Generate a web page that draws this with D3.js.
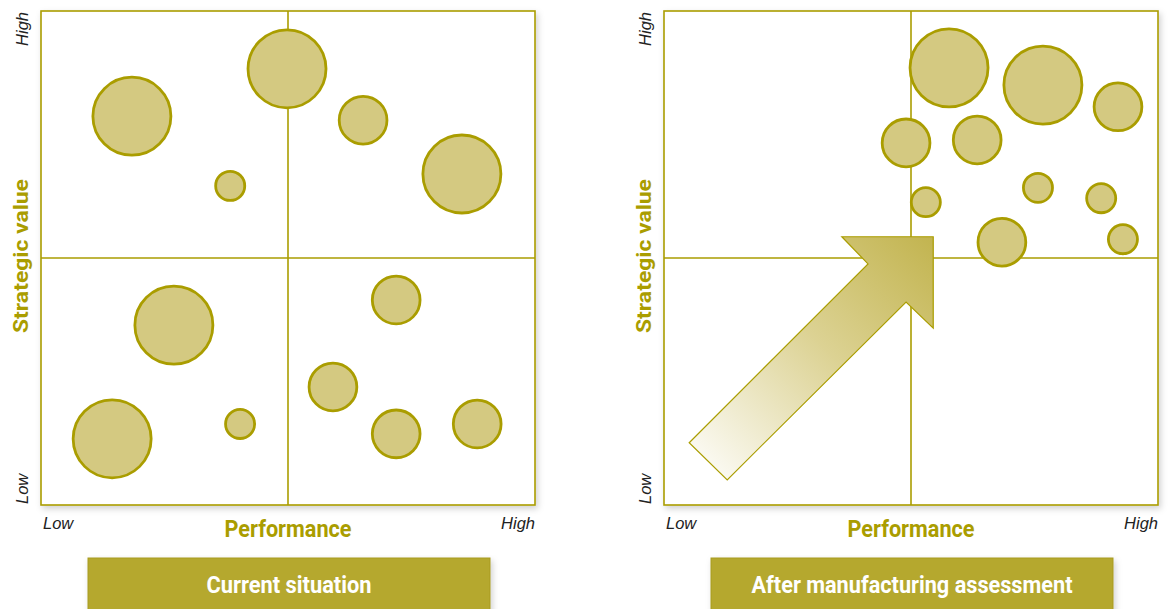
<!DOCTYPE html>
<html>
<head>
<meta charset="utf-8">
<script src="https://cdn.jsdelivr.net/npm/d3@7"></script>
<style>
  html, body { margin: 0; padding: 0; background: #fff; }
  svg { display: block; }
</style>
</head>
<body>
<div id="chart"></div>
<script>
// ---- data (performance 0..10, strategic value 0..10, size) ----
const panelTitles = ["Current situation", "After manufacturing assessment"];
const xTitle = "Performance";
const yTitle = "Strategic value";
const lowLabel = "Low";
const highLabel = "High";

const perfCurrent  = [1.84, 4.98, 6.52, 3.83, 8.52, 2.69, 7.19, 5.91, 1.44, 4.03, 7.19, 8.83];
const valueCurrent = [7.87, 8.83, 7.79, 6.46, 6.70, 3.64, 4.15, 2.39, 1.34, 1.64, 1.44, 1.64];
const sizeCurrent  = [72, 72, 27, 10, 72, 72, 27, 27, 72, 10, 27, 27];

const perfAfter  = [5.77, 7.67, 9.19, 4.90, 6.34, 5.30, 7.57, 8.85, 6.84, 9.29];
const valueAfter = [8.85, 8.50, 8.06, 7.33, 7.39, 6.13, 6.42, 6.21, 5.32, 5.38];
const sizeAfter  = [72, 72, 27, 27, 27, 10, 10, 10, 27, 10];

// arrow outline on the second panel, in data units
const arrowPerf  = [0.51, 4.13, 3.60, 5.45, 5.45, 4.90, 1.28];
const arrowValue = [1.26, 4.88, 5.43, 5.43, 3.58, 4.11, 0.51];

// ---- styles ----
const olive = "#aa9d00";
const bubbleFill = "#d4c981";
const bannerFill = "#b5a82d";
const condensed = "Roboto, 'Liberation Sans', sans-serif";
const plain = "'Liberation Sans', Arial, sans-serif";

const width = 1168, height = 609;
const frameTop = 11, frameBottom = 505, frameW = 494;
const panelLefts = [41, 664];
const bannerTextLen = [165, 321];

const svg = d3.select("#chart").append("svg")
  .attr("width", width)
  .attr("height", height);

const defs = svg.append("defs");
const shadow = defs.append("filter").attr("id", "shadow")
  .attr("x", "-5%").attr("y", "-5%").attr("width", "115%").attr("height", "115%");
shadow.append("feDropShadow")
  .attr("dx", 2).attr("dy", 3).attr("stdDeviation", 3)
  .attr("flood-color", "#000").attr("flood-opacity", 0.18);

const grad = defs.append("linearGradient").attr("id", "arrowGrad")
  .attr("x1", "0%").attr("y1", "100%").attr("x2", "100%").attr("y2", "0%");
grad.append("stop").attr("offset", "0%").attr("stop-color", "#ffffff");
grad.append("stop").attr("offset", "55%").attr("stop-color", "#dcd293");
grad.append("stop").attr("offset", "100%").attr("stop-color", "#c2b44f");

const sizeScale = d3.scaleSqrt().domain([0, 72]).range([0, 39]);

const panels = [
  { perf: perfCurrent, value: valueCurrent, size: sizeCurrent, arrow: false },
  { perf: perfAfter, value: valueAfter, size: sizeAfter, arrow: true }
];

panels.forEach((p, i) => {
  const left = panelLefts[i];
  const x = d3.scaleLinear().domain([0, 10]).range([left, left + frameW]);
  const y = d3.scaleLinear().domain([0, 10]).range([frameBottom, frameTop]);
  const g = svg.append("g");

  // frame
  g.append("rect")
    .attr("x", x(0)).attr("y", y(10))
    .attr("width", x(10) - x(0)).attr("height", y(0) - y(10))
    .attr("fill", "#fff")
    .attr("stroke", olive).attr("stroke-width", 1.6)
    .attr("filter", "url(#shadow)");

  // quadrant dividers
  g.append("line")
    .attr("x1", x(5)).attr("x2", x(5)).attr("y1", y(0)).attr("y2", y(10))
    .attr("stroke", olive).attr("stroke-width", 1.6);
  g.append("line")
    .attr("x1", x(0)).attr("x2", x(10)).attr("y1", y(5)).attr("y2", y(5))
    .attr("stroke", olive).attr("stroke-width", 1.6);

  // arrow
  if (p.arrow) {
    const pts = arrowPerf.map((v, k) => [x(v), y(arrowValue[k])]);
    g.append("path")
      .attr("d", d3.line()(pts) + "Z")
      .attr("fill", "url(#arrowGrad)")
      .attr("stroke", olive).attr("stroke-width", 1.2)
      .attr("stroke-linejoin", "miter");
  }

  // bubbles
  const bubbles = p.perf.map((v, k) => ({ perf: v, value: p.value[k], size: p.size[k] }));
  g.selectAll("circle.bubble")
    .data(bubbles)
    .join("circle")
    .attr("class", "bubble")
    .attr("cx", d => x(d.perf))
    .attr("cy", d => y(d.value))
    .attr("r", d => sizeScale(d.size))
    .attr("fill", bubbleFill)
    .attr("stroke", olive)
    .attr("stroke-width", 2.8);

  // axis end labels
  const endLabel = (sel) => sel
    .attr("font-family", plain).attr("font-style", "italic")
    .attr("font-size", 16.5).attr("fill", "#222");
  g.append("text")
    .attr("x", x(0) + 2).attr("y", 529)
    .call(endLabel)
    .text(lowLabel);
  g.append("text")
    .attr("x", x(10)).attr("y", 529)
    .attr("text-anchor", "end")
    .call(endLabel)
    .text(highLabel);
  g.append("text")
    .attr("transform", `translate(${x(0) - 13},${y(10) + 1}) rotate(-90)`)
    .attr("text-anchor", "end")
    .call(endLabel)
    .text(highLabel);
  g.append("text")
    .attr("transform", `translate(${x(0) - 13},${y(0) - 1}) rotate(-90)`)
    .attr("text-anchor", "start")
    .call(endLabel)
    .text(lowLabel);

  // axis titles (squeezed to the narrow width of the original face)
  g.append("text")
    .attr("x", x(5)).attr("y", 537)
    .attr("text-anchor", "middle")
    .attr("font-family", condensed).attr("font-weight", "bold")
    .attr("font-size", 23).attr("fill", olive)
    .attr("textLength", 127).attr("lengthAdjust", "spacingAndGlyphs")
    .text(xTitle);
  g.append("text")
    .attr("transform", `translate(${x(0) - 13},${y(5) - 2}) rotate(-90)`)
    .attr("text-anchor", "middle")
    .attr("font-family", condensed).attr("font-weight", "bold")
    .attr("font-size", 21).attr("fill", olive)
    .attr("textLength", 154).attr("lengthAdjust", "spacingAndGlyphs")
    .text(yTitle);

  // banner
  const bx = x(0) + 47, bw = 402;
  g.append("rect")
    .attr("x", bx).attr("y", 558)
    .attr("width", bw).attr("height", 60)
    .attr("fill", bannerFill)
    .attr("stroke", "#a89b1f").attr("stroke-width", 1)
    .attr("filter", "url(#shadow)");
  g.append("text")
    .attr("x", bx + bw / 2).attr("y", 593)
    .attr("text-anchor", "middle")
    .attr("font-family", condensed).attr("font-weight", "bold")
    .attr("font-size", 24).attr("fill", "#fff")
    .attr("textLength", bannerTextLen[i]).attr("lengthAdjust", "spacingAndGlyphs")
    .text(panelTitles[i]);
});
</script>
</body>
</html>
